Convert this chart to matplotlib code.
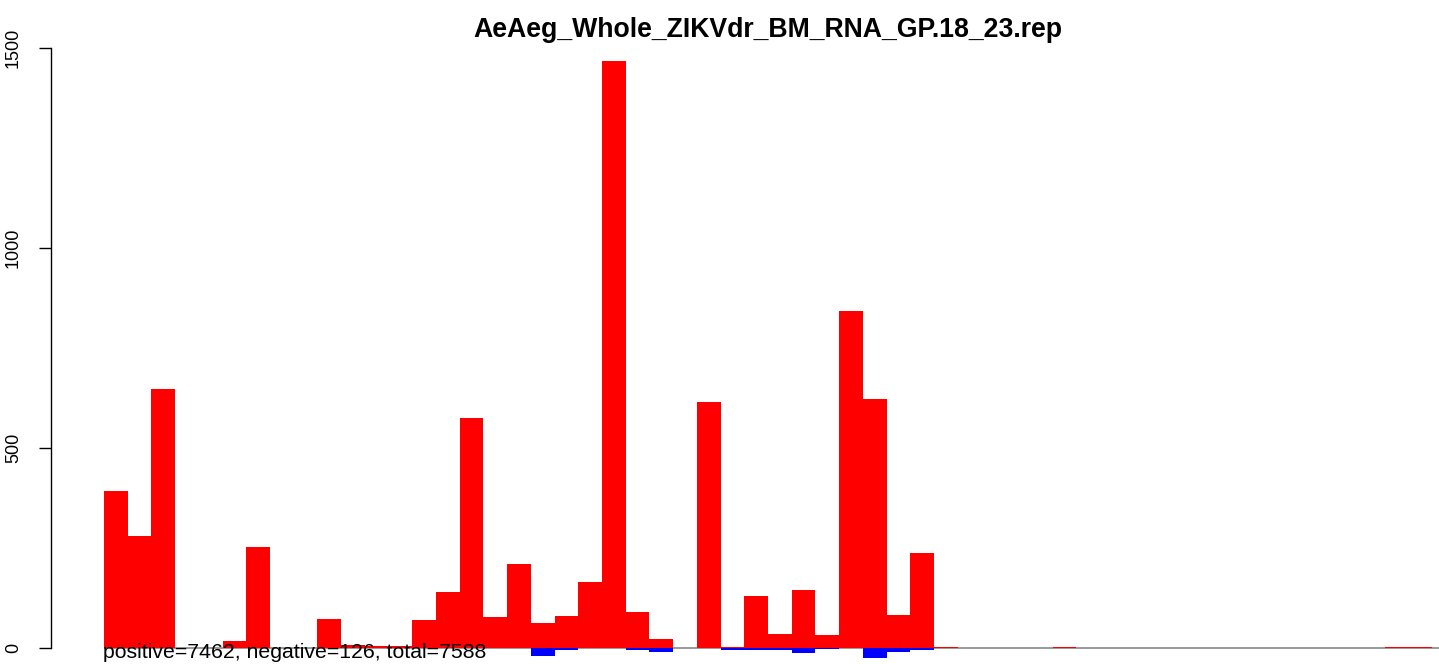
import matplotlib
matplotlib.use("Agg")
import matplotlib.pyplot as plt
import numpy as np

plt.rcParams['font.family'] = ['Liberation Sans', 'DejaVu Sans']

title = "AeAeg_Whole_ZIKVdr_BM_RNA_GP.18_23.rep"
summary = "positive=7462, negative=126, total=7588"

positive = [392, 281, 648, 0, 0, 18, 252, 1, 1, 72,
            7, 5, 4, 71, 141, 575, 77, 210, 62, 80,
            165, 1467, 90, 22, 1, 615, 3, 130, 36, 145,
            32, 842, 622, 83, 237, 2, 0, 0, 0, 1,
            3, 0, 0, 0, 0, 0, 0, 0, 0, 0,
            0, 0, 0, 0, 3, 3]
negative = [-1, -1, -1, -1, -1, -1, -1, -1, -1, -1,
            -1, -1, -1, -1, -1, -1, -1, -1, -19, -5,
            -1, -1, -4, -9, 0, -1, -6, -4, -4, -12,
            -2, -1, -25, -9, -6, -1, 0, 0, -1, 0,
            -1, 0, 0, 0, 0, -1, -1, 0, 0, 0,
            0, -1, 0, 0, -1, -1]
yticks = [0, 500, 1000, 1500]

W, H = 1439, 664
fig = plt.figure(figsize=(W / 100, H / 100), dpi=100)
ax = fig.add_axes([51 / W, 0, 1 - 51 / W, 1])

idx = np.arange(len(positive))
ax.hlines(0, 0, 56.3, color='#888888', lw=1.2, zorder=1)
ax.bar(idx, positive, width=1, align='edge', color='#ff0000', lw=0, zorder=2)
ax.bar(idx, negative, width=1, align='edge', color='#0000ff', lw=0, zorder=2)

ax.set_xlim(-53 / 23.714, (W - 104) / 23.714)
ax.set_ylim(-40, 1620)

for s in ['top', 'right', 'bottom']:
    ax.spines[s].set_visible(False)
ax.spines['left'].set_bounds(0, 1500)
ax.spines['left'].set_linewidth(1.0)
ax.set_xticks([])
ax.set_yticks(yticks)
ax.set_yticklabels([str(v) for v in yticks], rotation=90, va='center', fontsize=13)
ax.tick_params(axis='y', direction='out', length=9, width=1.0, pad=12)

fig.text(768 / W, 1 - 36.7 / H, title, ha='center', va='baseline',
         fontsize=19.2, fontweight='bold')
fig.text(103.5 / W, 1 - 658.3 / H, summary, ha='left', va='baseline',
         fontsize=15.3, zorder=3)

fig.savefig("out.png", dpi=100)
